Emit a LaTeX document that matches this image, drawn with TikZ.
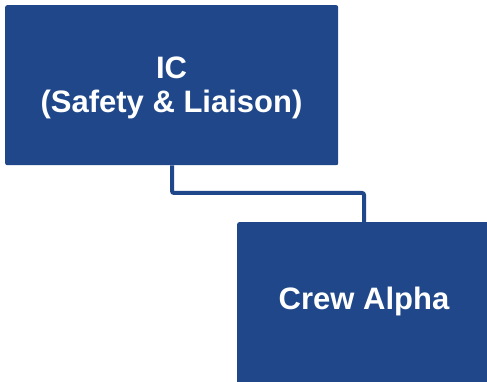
\documentclass[tikz,border=0pt]{standalone}
\usepackage{fontspec}
\setmainfont{Liberation Sans}
\definecolor{boxblue}{RGB}{31,71,138}
\begin{document}
\begin{tikzpicture}[x=1pt,y=-1pt,
  orgbox/.style={fill=boxblue, rounded corners=2pt, inner sep=0pt, anchor=north west},
  orgtext/.style={text=white, font=\bfseries\fontsize{31}{34}\selectfont,
    align=center, inner sep=0pt},
  link/.style={draw=boxblue, line width=4pt, rounded corners=2pt}]
\useasboundingbox (0,0) rectangle (487,382);
\node[orgbox, minimum width=333pt, minimum height=160pt] (ic) at (5,5) {};
\node[orgbox, minimum width=255pt, minimum height=165pt] (crew) at (237,222) {};
\node[orgtext] (ictext) at (171.5,88) {IC\\(Safety \& Liaison)};
\node[orgtext] (crewtext) at (364,301) {Crew Alpha};
\coordinate (c1) at (172,193);
\coordinate (c2) at (364,193);
\draw[link] (c1 |- ic.south) -- (c1) -- (c2) -- (c2 |- crew.north);
\end{tikzpicture}
\end{document}
